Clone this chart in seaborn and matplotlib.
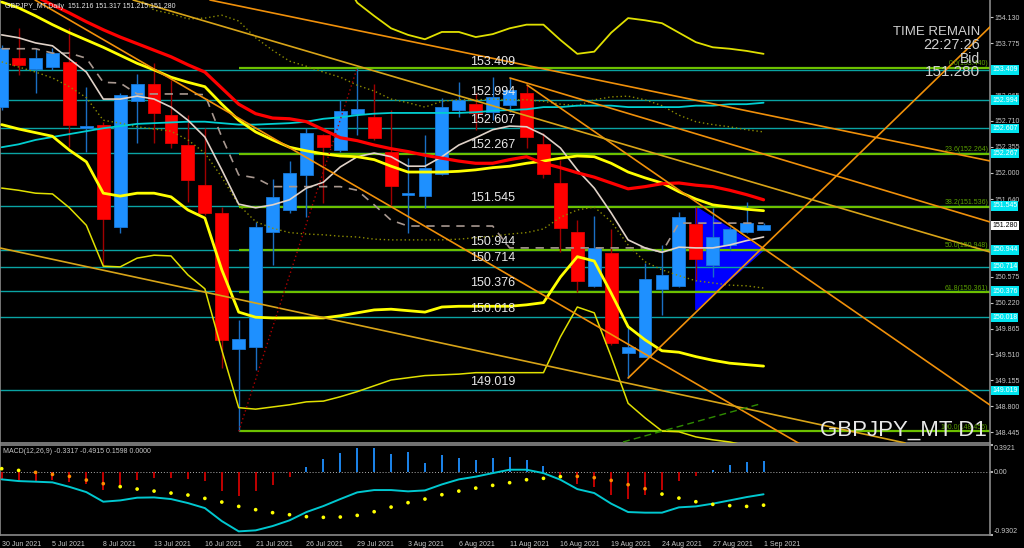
import numpy as np
import matplotlib
matplotlib.use("Agg")
import matplotlib.pyplot as plt
import seaborn as sns

# GBPJPY daily candles, 30 Jun 2021 - 1 Sep 2021
opens = [152.906, 153.569, 153.423, 153.446, 153.523, 152.610, 152.651, 151.253, 152.984, 153.217,
         152.792, 152.381, 151.833, 151.445, 149.585, 149.617, 151.193, 151.490, 151.966, 152.518,
         152.312, 152.806, 152.761, 152.289, 151.696, 151.686, 151.984, 152.861, 152.943, 152.837,
         152.929, 153.090, 152.395, 151.864, 151.193, 150.453, 150.897, 149.534, 149.480, 150.403,
         150.453, 151.294, 150.736, 151.010, 151.189, 151.216]
highs = [153.752, 153.980, 153.710, 153.710, 153.985, 153.180, 152.696, 153.094, 153.350, 153.501,
         153.272, 152.792, 152.610, 151.535, 149.982, 151.330, 151.911, 152.166, 152.610, 152.530,
         152.998, 153.440, 153.217, 152.861, 152.199, 152.518, 153.021, 153.249, 153.090, 153.317,
         153.295, 153.203, 152.541, 152.175, 151.353, 151.408, 151.226, 149.891, 150.759, 151.010,
         151.467, 151.535, 151.513, 151.261, 151.604, 151.317]
lows = [152.861, 153.340, 153.094, 153.409, 152.358, 152.289, 150.736, 151.175, 152.413, 152.404,
        152.336, 151.604, 151.422, 149.320, 148.456, 149.297, 150.736, 151.445, 151.398, 151.582,
        152.290, 152.518, 152.450, 151.559, 151.171, 151.513, 151.970, 152.769, 152.587, 152.724,
        152.837, 152.336, 151.925, 150.919, 150.370, 150.439, 149.640, 149.183, 149.470, 150.051,
        150.439, 150.531, 150.576, 150.942, 151.171, 151.215]
closes = [153.706, 153.478, 153.578, 153.646, 152.655, 152.641, 151.363, 153.066, 153.217, 152.824,
          152.404, 151.901, 151.453, 149.708, 149.718, 151.253, 151.672, 151.993, 152.541, 152.358,
          152.851, 152.870, 152.473, 151.819, 151.719, 152.070, 152.906, 152.998, 152.815, 153.035,
          153.135, 152.487, 151.984, 151.239, 150.521, 150.965, 149.663, 149.617, 150.544, 150.599,
          151.398, 150.814, 151.116, 151.234, 151.308, 151.280]

date_labels = ["30 Jun 2021", "5 Jul 2021", "8 Jul 2021", "13 Jul 2021", "16 Jul 2021", "21 Jul 2021",
               "26 Jul 2021", "29 Jul 2021", "3 Aug 2021", "6 Aug 2021", "11 Aug 2021", "16 Aug 2021",
               "19 Aug 2021", "24 Aug 2021", "27 Aug 2021", "1 Sep 2021"]

# indicators
ma_red = [154.66, 154.53, 154.42, 154.30, 154.19, 154.07, 153.96, 153.86, 153.77, 153.68,
          153.59, 153.48, 153.38, 153.16, 152.94, 152.81, 152.75, 152.74, 152.70, 152.59,
          152.48, 152.44, 152.38, 152.33, 152.29, 152.24, 152.20, 152.16, 152.13, 152.13,
          152.18, 152.22, 152.13, 152.07, 152.00, 151.94, 151.86, 151.78, 151.81, 151.85,
          151.86, 151.83, 151.81, 151.76, 151.70, 151.63]
band_up = [154.34, 154.26, 154.15, 154.03, 153.92, 153.82, 153.72, 153.61, 153.50, 153.41,
           153.31, 153.24, 153.18, 152.94, 152.72, 152.56, 152.45, 152.35, 152.30, 152.26,
           152.23, 152.22, 152.18, 152.09, 152.01, 152.01, 152.01, 152.02, 152.04, 152.07,
           152.09, 152.13, 152.16, 152.20, 152.23, 152.22, 152.13, 152.01, 151.93, 151.86,
           151.74, 151.64, 151.56, 151.53, 151.50, 151.48]
band_dn = [152.66, 152.60, 152.55, 152.50, 152.31, 152.15, 151.72, 151.68, 151.72, 151.72,
           151.67, 151.49, 151.38, 150.67, 150.09, 150.02, 150.01, 150.01, 150.01, 150.01,
           150.04, 150.08, 150.12, 150.13, 150.11, 150.09, 150.16, 150.17, 150.17, 150.17,
           150.17, 150.19, 150.22, 150.57, 150.85, 150.79, 150.35, 149.89, 149.71, 149.56,
           149.54, 149.48, 149.43, 149.39, 149.37, 149.35]
band3_up = [154.71, 154.33, 154.15, 153.98, 153.89, 153.83, 153.93, 153.93, 153.86, 153.90,
            153.98, 154.03, 154.03, 153.82, 153.63, 153.66, 153.92, 154.12, 154.09, 154.05,
            153.92, 153.79, 153.72, 153.70, 153.67, 153.63]   # from bar 20
band3_dn = [151.79, 151.76, 151.72, 151.71, 151.52, 151.28, 150.72, 150.71, 150.83, 150.87,
            150.86, 150.60, 150.41, 149.57, 148.78, 148.76, 148.79, 148.82, 148.86, 148.87,
            148.93, 149.00, 149.08, 149.16, 149.19, 149.22, 149.23, 149.24, 149.26, 149.26,
            149.26, 149.26, 149.26, 149.75, 150.16, 150.08, 149.48, 148.84, 148.64, 148.46,
            148.45, 148.38, 148.34, 148.31, 148.26, 148.20]
ma_cyan = [152.35, 152.39, 152.45, 152.49, 152.53, 152.57, 152.61, 152.64, 152.67, 152.68,
           152.69, 152.70, 152.70, 152.68, 152.66, 152.66, 152.67, 152.68, 152.70, 152.74,
           152.76, 152.79, 152.81, 152.82, 152.82, 152.82, 152.82, 152.82, 152.83, 152.85,
           152.86, 152.87, 152.90, 152.90, 152.92, 152.92, 152.92, 152.90, 152.90, 152.90,
           152.90, 152.92, 152.92, 152.94, 152.94, 152.96]
ma_white = [153.89, 153.85, 153.78, 153.74, 153.56, 153.38, 153.01, 153.01, 153.05, 153.01,
            152.90, 152.72, 152.49, 152.04, 151.57, 151.52, 151.56, 151.63, 151.79, 151.87,
            152.08, 152.22, 152.27, 152.22, 152.09, 152.09, 152.22, 152.38, 152.48, 152.59,
            152.64, 152.63, 152.52, 152.34, 152.04, 151.79, 151.45, 151.08, 150.97, 150.91,
            150.98, 150.97, 150.97, 151.01, 151.07, 151.12]
kijun = [153.70, 153.70, 153.70, 153.64, 153.64, 153.57, 153.24, 153.23, 153.08, 153.08,
         153.08, 153.08, 153.07, 152.49, 151.97, 151.93, 151.81, 151.81, 151.81, 151.81,
         151.81, 151.76, 151.56, 151.35, 151.27, 151.27, 151.27, 151.27, 151.27, 151.27,
         150.97, 150.97, 150.97, 150.97, 150.97, 150.97, 150.97, 150.97, 150.97, 150.91,
         151.31, 151.31, 151.31, 151.31, 151.31, 151.31]
env_up = [154.40, 154.23, 154.18, 154.11, 154.12, 154.16, 154.08, 153.85, 153.68, 153.53,
          153.46, 153.38, 153.31, 153.20, 153.12, 153.01, 152.96, 152.90, 152.98, 153.00,
          153.00, 153.01, 153.00, 153.00, 152.98, 152.94, 152.92, 153.00, 153.04, 153.05,
          153.00, 152.92, 152.79, 152.70, 152.66, 152.63, 152.59, 152.56]   # from bar 8
env_dn = [153.52, 153.45, 153.38, 153.30, 153.18, 153.03, 152.72, 152.68, 152.63, 152.60,
          152.57, 152.45, 152.27, 151.94, 151.56, 151.33, 151.24, 151.18, 151.16, 151.15,
          151.13, 151.12, 151.09, 151.08, 151.08, 151.08, 151.08, 151.09, 151.11, 151.13,
          151.16, 151.18, 151.23, 151.39, 151.49, 151.53, 151.33, 151.01, 150.78, 150.67,
          150.59, 150.52, 150.49, 150.46, 150.45, 150.42]

# MACD(12,26,9)
macd_main = [-0.113, -0.138, -0.147, -0.157, -0.223, -0.300, -0.441, -0.422, -0.382, -0.378,
             -0.402, -0.461, -0.535, -0.726, -0.877, -0.862, -0.799, -0.715, -0.593, -0.505,
             -0.402, -0.304, -0.270, -0.270, -0.289, -0.275, -0.187, -0.113, -0.073, -0.021,
             0.029, 0.029, -0.021, -0.118, -0.256, -0.314, -0.470, -0.593, -0.602, -0.602,
             -0.524, -0.510, -0.470, -0.422, -0.373, -0.332]
macd_signal = [0.044, 0.019, -0.010, -0.040, -0.069, -0.123, -0.176, -0.220, -0.255, -0.285,
               -0.314, -0.343, -0.392, -0.446, -0.510, -0.558, -0.602, -0.632, -0.661, -0.671,
               -0.666, -0.642, -0.588, -0.520, -0.455, -0.402, -0.338, -0.285, -0.241, -0.201,
               -0.162, -0.118, -0.098, -0.073, -0.069, -0.088, -0.128, -0.191, -0.250, -0.329,
               -0.388, -0.441, -0.480, -0.499, -0.510, -0.492]
macd_hist = [-0.103, -0.152, -0.142, -0.128, -0.157, -0.176, -0.264, -0.201, -0.118, -0.088,
             -0.093, -0.113, -0.142, -0.285, -0.358, -0.289, -0.191, -0.079, 0.068, 0.181,
             0.273, 0.342, 0.342, 0.254, 0.288, 0.130, 0.239, 0.195, 0.166, 0.195,
             0.210, 0.166, 0.082, -0.054, -0.176, -0.226, -0.338, -0.402, -0.348, -0.275,
             -0.138, -0.065, 0.019, 0.093, 0.141, 0.160]

# horizontal lines and fibonacci (148.456 low on bar 14 -> 153.440 high on bar 21)
hlines = [153.409, 152.994, 152.607, 152.267, 151.545, 150.944, 150.714, 150.376, 150.018, 149.019]
fib_names = ["0.0", "23.6", "38.2", "50.0", "61.8", "100.0"]
fib_levels = [153.440, 152.264, 151.536, 150.948, 150.361, 148.456]
# trend lines: (bar0, price0, bar1, price1)
orange_lines = [(1.97, 154.368, 47.15, 148.283), (12.30, 154.368, 58.37, 152.162),
                (30.02, 153.299, 58.37, 151.326), (31.03, 153.203, 58.37, 148.817),
                (37.0, 149.187, 58.37, 153.998)]
gold_lines = [(-0.10, 150.969, 53.36, 148.297), (7.76, 154.368, 58.37, 150.914)]
green_dash = (36.7, 148.310, 44.79, 148.831)
tri_x = [41, 45, 41]
tri_p = [151.531, 150.942, 150.120]

price_ticks = [154.130, 153.775, 153.065, 152.710, 152.355, 152.000, 151.640,
               150.575, 150.220, 149.865, 149.510, 149.155, 148.800, 148.445]

sns.set_theme(style="dark", rc={"axes.facecolor": "black", "figure.facecolor": "black"})
plt.rcParams["font.family"] = ["Liberation Sans", "DejaVu Sans"]

bars = np.arange(len(closes))
X0, X1 = -0.10, 58.375
fig = plt.figure(figsize=(10.24, 5.48), dpi=100, facecolor="black")
ax = fig.add_axes([0, 1 - 443 / 548, 990 / 1024, 443 / 548])
mx = fig.add_axes([0, 1 - 535 / 548, 990 / 1024, 90 / 548])
grey = "#8a8a8a"
txtc = "#c8c8c8"
for a in (ax, mx):
    a.set_facecolor("black")
    a.set_xlim(X0, X1)
    a.grid(False)
    for s in a.spines.values():
        s.set_color(grey)
        s.set_linewidth(1.2)
ax.spines["top"].set_visible(False)
ax.set_ylim(148.296, 154.368)
mx.set_ylim(-0.9302, 0.3921)

# ---- background objects
ax.fill(tri_x, tri_p, color="#0000ff", zorder=1)
for lv in hlines:
    ax.axhline(lv, color="#0aa3a3", lw=1.0, zorder=2)
ax.hlines(fib_levels, 14, X1, color="#6cc000", lw=1.6, zorder=2)
for nm, lv in zip(fib_names, fib_levels):
    ax.text(X1 - 0.1, lv + 0.01, f"{nm}({lv:.3f})", color="#5aa000", fontsize=5,
            ha="right", va="bottom", zorder=6)

# ---- candles
up = np.array(closes) >= np.array(opens)
body_lo = np.minimum(opens, closes)
body_h = np.maximum(np.abs(np.array(closes) - np.array(opens)), 0.025)
ax.vlines(bars, lows, highs, colors=np.where(up, "#1a6fc4", "#a00000"), lw=1.0, zorder=3)
ax.bar(bars, body_h, bottom=body_lo, width=0.76, color=np.where(up, "#1e90ff", "#ff0000"),
       edgecolor=np.where(up, "#1878d8", "#e00000"), linewidth=0.6, zorder=3)

# ---- indicator lines
def line(xs, ys, **kw):
    sns.lineplot(x=xs, y=ys, ax=ax, estimator=None, sort=False, legend=False, zorder=4, **kw)

line(bars, band3_dn, color="#e0e000", linewidth=1.1)
line(bars[20:], band3_up, color="#e0e000", linewidth=1.3)
ax.plot(bars[8:], env_up, color="#8c8c00", lw=1.0, ls=(0, (1, 2)), zorder=4)
ax.plot(bars, env_dn, color="#8c8c00", lw=1.0, ls=(0, (1, 2)), zorder=4)
ax.plot(bars, kijun, color="#a89890", lw=1.2, ls=(0, (5, 4)), zorder=4)
line(bars, ma_cyan, color="#00ced1", linewidth=1.3)
line(bars, ma_white, color="#e0d2c8", linewidth=1.2)
line(bars, band_up, color="#ffff00", linewidth=2.0)
line(bars, band_dn, color="#ffff00", linewidth=2.0)
line(bars, ma_red, color="#ff0000", linewidth=2.3)
for x0, p0, x1, p1 in orange_lines:
    ax.plot([x0, x1], [p0, p1], color="#f0900a", lw=1.2, zorder=5)
for x0, p0, x1, p1 in gold_lines:
    ax.plot([x0, x1], [p0, p1], color="#d8a418", lw=1.2, zorder=5)
ax.plot([green_dash[0], green_dash[2]], [green_dash[1], green_dash[3]], color="#2f8c00",
        lw=1.0, ls=(0, (5, 3)), zorder=5)
ax.plot([14, 21], [fib_levels[5], fib_levels[0]], color="#b00000", lw=1.0, ls=(0, (1, 2)), zorder=5)

# ---- in-chart labels of horizontal lines
for lv in hlines:
    ax.text(27.66, lv + 0.03, f"{lv:.3f}", color="#e8e8e8", fontsize=9, ha="left", va="bottom", zorder=7)

# ---- price axis
ax.set_xticks([])
ax.yaxis.tick_right()
ax.set_yticks(price_ticks)
ax.set_yticklabels([f"{t:.3f}" for t in price_ticks])
ax.tick_params(axis="y", colors=txtc, labelsize=5, length=2, pad=1, width=0.8)
ytr = ax.get_yaxis_transform()
for lv in hlines:
    ax.text(1.002, lv, f"{lv:.3f}", transform=ytr, fontsize=5, color="#ffffff", ha="left",
            va="center", clip_on=False, zorder=8,
            bbox=dict(boxstyle="square,pad=0.18", fc="#00e5f0", ec="none"))
ax.text(1.002, closes[-1], f"{closes[-1]:.3f}", transform=ytr, fontsize=5, color="#000000",
        ha="left", va="center", clip_on=False, zorder=8,
        bbox=dict(boxstyle="square,pad=0.18", fc="#ffffff", ec="none"))

# ---- MACD panel
hist = np.array(macd_hist)
mx.vlines(bars, 0, hist, colors=np.where(hist >= 0, "#1e90ff", "#d00000"), lw=1.3, zorder=2)
mx.axhline(0, color="#b0b0b0", lw=0.7, ls=(0, (1, 2)), zorder=1)
sns.lineplot(x=bars, y=macd_main, ax=mx, color="#00c8d0", linewidth=1.4, estimator=None,
             sort=False, legend=False, zorder=3)
sig = np.array(macd_signal)
inside = (hist < 0) & (sig < 0) & (sig > hist)
sns.scatterplot(x=bars, y=sig, ax=mx, hue=np.where(inside, "in", "out"),
                palette={"in": "#ff8c00", "out": "#ffff00"}, s=7, linewidth=0, legend=False, zorder=4)
mx.set_xlim(X0, X1)
mx.yaxis.tick_right()
mx.set_yticks([0.3921, 0.0, -0.9302])
mx.set_yticklabels(["0.3921", "0.00", "-0.9302"])
mx.tick_params(axis="y", colors=txtc, labelsize=5, length=2, pad=1)
ylbl = mx.get_yticklabels()
ylbl[0].set_va("top")
ylbl[2].set_va("bottom")
mx.set_xticks(bars[::3])
mx.set_xticklabels(date_labels)
mx.tick_params(axis="x", colors=txtc, labelsize=5, length=3, pad=1, width=0.8)
for t in mx.get_xticklabels():
    t.set_ha("left")
mx.set_xlabel("")
mx.set_ylabel("")
ax.set_xlabel("")
ax.set_ylabel("")
mx.text(0.003, 0.93, "MACD(12,26,9) -0.3317 -0.4915 0.1598 0.0000", transform=mx.transAxes,
        fontsize=5, color=txtc, ha="left", va="center")

# ---- overlay texts
fig.text(5 / 1024, 1 - 6 / 548, "GBPJPY_MT,Daily  151.216 151.317 151.215 151.280",
         fontsize=5, color="#e8e8e8", ha="left", va="center")
rx = 980 / 1024
fig.text(rx, 1 - 32 / 548, "TIME REMAIN", fontsize=9.5, color="#d0d0d0", ha="right", va="center")
fig.text(rx, 1 - 45 / 548, "22:27:26", fontsize=10.5, color="#d0d0d0", ha="right", va="center")
fig.text(rx, 1 - 59 / 548, "Bid", fontsize=10, color="#d0d0d0", ha="right", va="center")
fig.text(rx, 1 - 72 / 548, "151.280", fontsize=11, color="#d0d0d0", ha="right", va="center")
fig.text(987 / 1024, 1 - 430 / 548, "GBPJPY_MT D1", fontsize=16, color="#e8e8e8",
         ha="right", va="center", zorder=10)

fig.savefig("out.png", dpi=100, facecolor="black")
